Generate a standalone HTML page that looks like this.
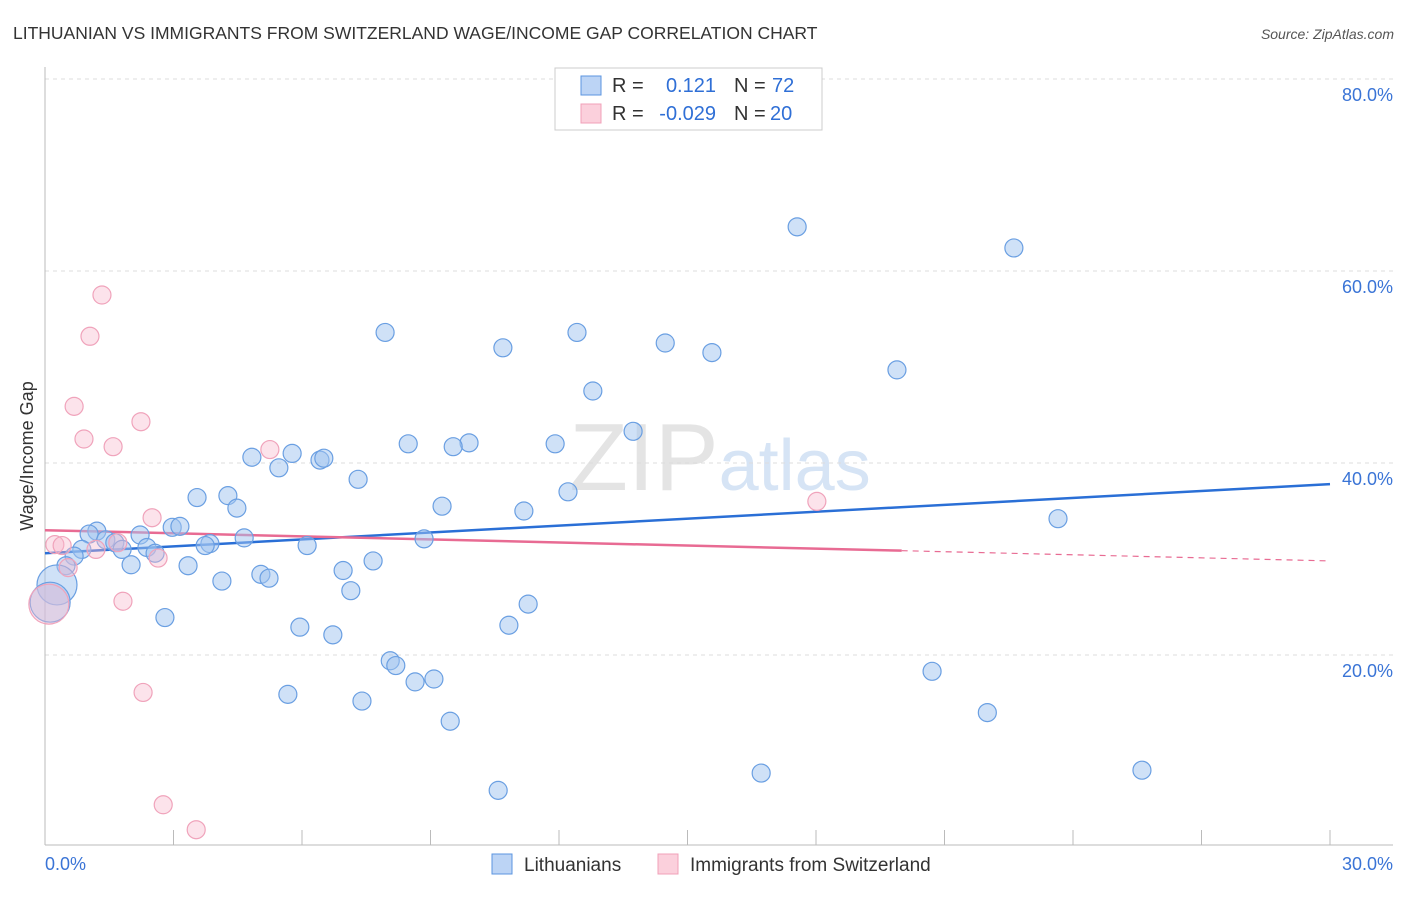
<!DOCTYPE html>
<html><head><meta charset="utf-8"><style>
body{margin:0;background:#fff;font-family:"Liberation Sans",sans-serif;}
svg text{font-family:"Liberation Sans",sans-serif;}
</style></head><body>
<svg id="chart" width="1406" height="892" xmlns="http://www.w3.org/2000/svg">
<text x="13" y="39" font-size="17.5" fill="#333">LITHUANIAN VS IMMIGRANTS FROM SWITZERLAND WAGE/INCOME GAP CORRELATION CHART</text>
<text x="1394" y="39" font-size="14" fill="#555" font-style="italic" text-anchor="end">Source: ZipAtlas.com</text>
<text x="720" y="490" font-size="96" fill="#e4e4e4" text-anchor="middle" font-family="Liberation Serif"><tspan>ZIP</tspan><tspan fill="#d6e4f5" font-family="Liberation Sans" font-size="72">atlas</tspan></text>
<g id="grid"></g>
<g id="axes"></g>
<text transform="translate(33,456) rotate(-90)" font-size="18" fill="#333" text-anchor="middle">Wage/Income Gap</text>
<g id="lines"></g>
<g id="pts"></g>
<g>
<rect x="555" y="68" width="267" height="62" fill="#fff" stroke="#ccc"/>
<rect x="581" y="76" width="20" height="19" fill="#bcd4f5" stroke="#5b95e0"/>
<rect x="581" y="104" width="20" height="19" fill="#fbd0dc" stroke="#f0a0b8"/>
<text x="612" y="92" font-size="20" fill="#333">R = </text><text x="716" y="92" font-size="20" fill="#2f6fd6" text-anchor="end">0.121</text>
<text x="734" y="92" font-size="20" fill="#333">N = </text><text x="772" y="92" font-size="20" fill="#2f6fd6">72</text>
<text x="612" y="120" font-size="20" fill="#333">R = </text><text x="716" y="120" font-size="20" fill="#2f6fd6" text-anchor="end">-0.029</text>
<text x="734" y="120" font-size="20" fill="#333">N = </text><text x="770" y="120" font-size="20" fill="#2f6fd6">20</text>
</g>
<g>
<rect x="492" y="854" width="20" height="20" fill="#bcd4f5" stroke="#5b95e0"/>
<text x="524" y="871" font-size="19" fill="#333">Lithuanians</text>
<rect x="658" y="854" width="20" height="20" fill="#fbd0dc" stroke="#f0a0b8"/>
<text x="690" y="871" font-size="19" fill="#333">Immigrants from Switzerland</text>
</g>
</svg>
<script>
const blueX=[17.56,22.62,7.94,12.42,10.69,14.48,15.57,19.89,12.79,13.73,8.48,9.90,9.53,11.91,5.77,4.83,6.42,6.51,5.46,7.31,12.21,3.55,4.27,9.27,4.48,11.18,23.65,2.97,3.15,1.21,1.03,2.22,4.65,8.85,1.42,1.63,3.85,3.74,0.86,1.80,2.38,6.12,2.57,0.68,7.66,0.49,2.01,3.34,6.96,5.04,5.23,4.13,7.14,0.28,0.12,11.28,2.80,5.95,10.83,6.72,8.06,8.19,20.71,8.64,9.08,5.67,7.40,22.0,9.46,16.72,25.61,10.58];
const blueY=[64.6,62.4,53.6,53.6,52.0,52.5,51.5,49.7,47.5,43.3,42.0,42.1,41.7,42.0,41.0,40.6,40.3,40.5,39.5,38.3,37.0,36.4,36.6,35.5,35.3,35.0,34.2,33.3,33.4,32.9,32.6,32.5,32.2,32.1,32.0,31.7,31.6,31.4,31.0,31.0,31.2,31.4,30.6,30.3,29.8,29.3,29.4,29.3,28.8,28.4,28.0,27.7,26.7,27.3,25.5,25.3,23.9,22.9,23.1,22.1,19.4,18.9,18.3,17.2,17.5,15.9,15.2,14.0,13.1,7.7,8.0,5.9];
const blueBig=[53,54];
const pinkX=[1.33,1.05,0.68,2.24,0.91,1.59,5.25,2.50,18.02,0.23,0.40,1.19,1.70,2.64,0.54,1.82,0.09,2.29,2.76,3.53];
const pinkY=[57.5,53.2,45.9,44.3,42.5,41.7,41.4,34.3,36.0,31.5,31.4,31.0,31.7,30.1,29.1,25.6,25.3,16.1,4.4,1.8];
const pinkBig=[16];
const yTicks=[20,40,60,80];
const yTickLabels=["20.0%","40.0%","60.0%","80.0%"];
const xTickVals=[0,3,6,9,12,15,18,21,24,27,30];
const blueTrend=[30.6,37.8];
const pinkTrend=[33.0,29.8];
const pinkSolidEnd=20;
const NS="http://www.w3.org/2000/svg";
const sx=v=>45+v*1285/30, sy=v=>847-v*9.6;
function mk(tag,attrs,parent){const e=document.createElementNS(NS,tag);for(const k in attrs)e.setAttribute(k,attrs[k]);parent.appendChild(e);return e;}
const gGrid=document.getElementById('grid'),gAxes=document.getElementById('axes'),gLines=document.getElementById('lines'),gPts=document.getElementById('pts');
yTicks.forEach((t,i)=>{
 const l=mk('line',{x1:45,x2:1393,y1:sy(t),y2:sy(t),stroke:'#ddd','stroke-dasharray':'4,4'},gGrid);
 
 
 const tx=mk('text',{x:1393,y:sy(t)+22,'font-size':18,fill:'#3a74d6','text-anchor':'end'},gGrid);
 tx.textContent=yTickLabels[i];
 
 
});
const topGrid=mk('line',{x1:45,x2:1393,y1:79,y2:79,stroke:'#ddd','stroke-dasharray':'4,4'},gGrid);


const yAxisLine=mk('line',{x1:45,x2:45,y1:67,y2:845,stroke:'#bbb'},gAxes);


const xAxisLine=mk('line',{x1:45,x2:1393,y1:845,y2:845,stroke:'#bbb'},gAxes);


xTickVals.forEach(v=>{if(v===0)return;
 const t=mk('line',{x1:sx(v),x2:sx(v),y1:830,y2:845,stroke:'#bbb'},gAxes);
 
 
});
const xMinLbl=mk('text',{x:45,y:870,'font-size':18,fill:'#3a74d6'},gAxes);xMinLbl.textContent='0.0%';


const xMaxLbl=mk('text',{x:1393,y:870,'font-size':18,fill:'#3a74d6','text-anchor':'end'},gAxes);xMaxLbl.textContent='30.0%';


function drawPts(X,Y,big,fill,stroke,name){
 X.forEach((v,i)=>{const r=big.includes(i)?20:9;
  const c=mk('circle',{cx:sx(v),cy:sy(Y[i]),r:r,fill:fill,stroke:stroke,'stroke-width':1.2},gPts);
  
  
 });
}
drawPts(blueX,blueY,blueBig,'rgba(160,196,240,0.5)','#6a9fe2','lithuanian-point');
drawPts(pinkX,pinkY,pinkBig,'rgba(248,185,205,0.4)','#f0a3bb','swiss-immigrant-point');
const bl=mk('line',{x1:sx(0),y1:sy(blueTrend[0]),x2:sx(30),y2:sy(blueTrend[1]),stroke:'#2a6fd6','stroke-width':2.5},gLines);


const pm=pinkTrend[0]+(pinkTrend[1]-pinkTrend[0])*pinkSolidEnd/30;
const pl=mk('line',{x1:sx(0),y1:sy(pinkTrend[0]),x2:sx(pinkSolidEnd),y2:sy(pm),stroke:'#e86b93','stroke-width':2.5},gLines);


const pd=mk('line',{x1:sx(pinkSolidEnd),y1:sy(pm),x2:sx(30),y2:sy(pinkTrend[1]),stroke:'#e86b93','stroke-width':1.2,'stroke-dasharray':'6,5'},gLines);


</script>
</body></html>
